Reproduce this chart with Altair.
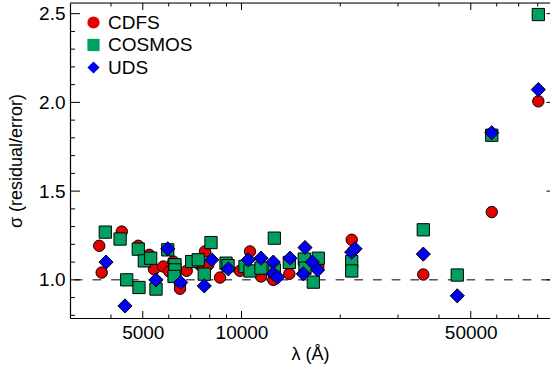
import altair as alt
import pandas as pd

# Survey names, fill colours, symbols and symbol areas
surveys = ["CDFS", "COSMOS", "UDS"]
colors = ["#E60000", "#00A060", "#0000F0"]
shapes = ["circle", "square", "diamond"]
sizes = [130, 150, 200]

# CDFS: filter wavelength (Angstrom) and sigma(residual/error)
cdfs_wave = [3684, 3748, 4315, 4845, 5234, 5411, 5774, 6024, 6195, 6494, 6494,
             6807, 7469, 7737, 7919, 8601, 9894, 10614, 11467, 12500, 13989,
             17145, 21676, 35830, 57930, 80340]
cdfs_sigma = [1.192, 1.041, 1.272, 1.192, 1.141, 1.060, 1.075, 1.047, 1.103, 0.975,
              0.950, 1.051, 1.085, 1.160, 1.085, 1.013, 1.051, 1.160, 1.019, 1.000,
              1.034, 1.075, 1.226, 1.030, 1.382, 2.006]

# COSMOS
cosmos_wave = [3844, 4264, 4467, 4869, 4845, 5055, 5286, 5487, 5958, 6270, 6270,
               6230, 7049, 7382, 8072, 7700, 8971, 9100, 10248, 10614, 11467,
               12590, 12590, 13989, 15540, 15617, 17145, 16555, 21676, 21676,
               35830, 45480, 57930, 80340]
cosmos_sigma = [1.269, 1.230, 1.000, 0.957, 1.173, 1.107, 1.122, 0.948, 1.169, 1.085,
                1.056, 1.019, 1.103, 1.113, 1.210, 1.032, 1.094, 1.080, 1.075, 1.050,
                1.066, 1.235, 1.056, 1.098, 1.117, 1.066, 1.122, 0.987, 1.103, 1.050,
                1.282, 1.027, 1.815, 2.495]

# UDS
uds_wave = [3864, 4413, 5487, 5958, 6525, 8112, 7700, 9116, 10489, 11467, 12500,
            12500, 12893, 14057, 15617, 16437, 17074, 15432, 21676, 22185, 35830,
            45480, 57930, 80340]
uds_sigma = [1.100, 0.853, 1.000, 1.175, 0.985, 1.113, 0.966, 1.062, 1.113, 1.122,
             1.100, 1.034, 1.015, 1.122, 1.182, 1.100, 1.056, 1.034, 1.156, 1.175,
             1.145, 0.910, 1.829, 2.072]

# Axis tick positions
x_major = [5000, 10000, 50000]
x_minor = [4000, 6000, 7000, 8000, 9000, 20000, 30000, 40000, 60000, 70000, 80000]
y_major = [1.0, 1.5, 2.0, 2.5]
y_minor = [0.8, 0.9, 1.1, 1.2, 1.3, 1.4, 1.6, 1.7, 1.8, 1.9, 2.1, 2.2, 2.3, 2.4]

W, H = 480, 315
FONT = "Liberation Sans"

series = {"CDFS": (cdfs_wave, cdfs_sigma),
          "COSMOS": (cosmos_wave, cosmos_sigma),
          "UDS": (uds_wave, uds_sigma)}

xscale = alt.Scale(type="log", domain=[3000, 87200], nice=False, zero=False)
yscale = alt.Scale(domain=[0.785, 2.56], nice=False, zero=False)

xaxis = alt.Axis(values=x_major, format="d", ticks=False, tickSize=0,
                 labelPadding=5, labelFontSize=19, titleFontSize=18,
                 titleFontWeight="normal", titleY=27, titleBaseline="top",
                 domainColor="black", domainWidth=1.2, grid=False,
                 labelColor="black", titleColor="black", labelFont=FONT,
                 titleFont=FONT)
yaxis = alt.Axis(values=y_major, format=".1f", ticks=False, tickSize=0,
                 labelPadding=5, labelFontSize=19, titleFontSize=18,
                 titleFontWeight="normal", titleX=-45, titleY=H / 2,
                 domainColor="black", domainWidth=1.2, grid=False,
                 labelColor="black", titleColor="black", labelFont=FONT,
                 titleFont=FONT)
XTITLE = "λ (Å)"
YTITLE = "σ (residual/error)"


def xenc(field):
    return alt.X(field, scale=xscale, axis=xaxis, title=XTITLE)


def yenc(field):
    return alt.Y(field, scale=yscale, axis=yaxis, title=YTITLE)


legend = alt.Legend(title=None, orient="none", legendX=14, legendY=10,
                    labelFontSize=19, labelFont=FONT, labelColor="black",
                    symbolSize=150, symbolStrokeColor="black",
                    symbolStrokeWidth=1, symbolOpacity=1,
                    rowPadding=2.5, labelOffset=5, padding=0)

# One point layer per survey, drawn in legend order (later ones on top)
point_layers = []
for name, size in zip(surveys, sizes):
    waves, sig = series[name]
    d = pd.DataFrame({"wave": waves, "sigma": sig, "survey": [name] * len(waves)})
    point_layers.append(
        alt.Chart(d).mark_point(filled=True, stroke="black", strokeWidth=1,
                                opacity=1, size=size).encode(
            x=xenc("wave:Q"),
            y=yenc("sigma:Q"),
            fill=alt.Fill("survey:N", scale=alt.Scale(domain=surveys, range=colors),
                          legend=legend),
            shape=alt.Shape("survey:N", scale=alt.Scale(domain=surveys, range=shapes),
                            legend=legend),
        )
    )

ref = alt.Chart(pd.DataFrame({"ref": [1.0]})).mark_rule(
    color="black", strokeWidth=1, strokeDash=[8.7, 10]
).encode(y=yenc("ref:Q"))

top_line = alt.Chart(pd.DataFrame({"a": [0]})).mark_rule(
    color="black", strokeWidth=1.2
).encode(x=alt.value(0), x2=alt.value(W), y=alt.value(0))

xmaj = pd.DataFrame({"v": x_major})
xmin = pd.DataFrame({"v": x_minor})
ymaj = pd.DataFrame({"v": y_major})
ymin = pd.DataFrame({"v": y_minor})


def xticks(data, y0, y1):
    return alt.Chart(data).mark_rule(color="black", strokeWidth=1).encode(
        x=xenc("v:Q"), y=alt.value(y0), y2=alt.value(y1))


def yticks(data, x0, x1):
    return alt.Chart(data).mark_rule(color="black", strokeWidth=1).encode(
        y=yenc("v:Q"), x=alt.value(x0), x2=alt.value(x1))


ticks = [
    xticks(xmaj, H, H - 7), xticks(xmin, H, H - 3.5),
    xticks(xmaj, 0, 7), xticks(xmin, 0, 3.5),
    yticks(ymaj, 0, 10), yticks(ymin, 0, 5),
    yticks(ymaj, W - 3.5, W),
]

chart = alt.layer(ref, top_line, *ticks, *point_layers).properties(
    width=W, height=H,
    autosize=alt.AutoSizeParams(type="none"),
    padding={"left": 70, "top": 3, "right": 0, "bottom": 53},
).configure_view(stroke=None).configure(font=FONT)

chart.save("out.html", embed_options={"renderer": "svg", "actions": False})
